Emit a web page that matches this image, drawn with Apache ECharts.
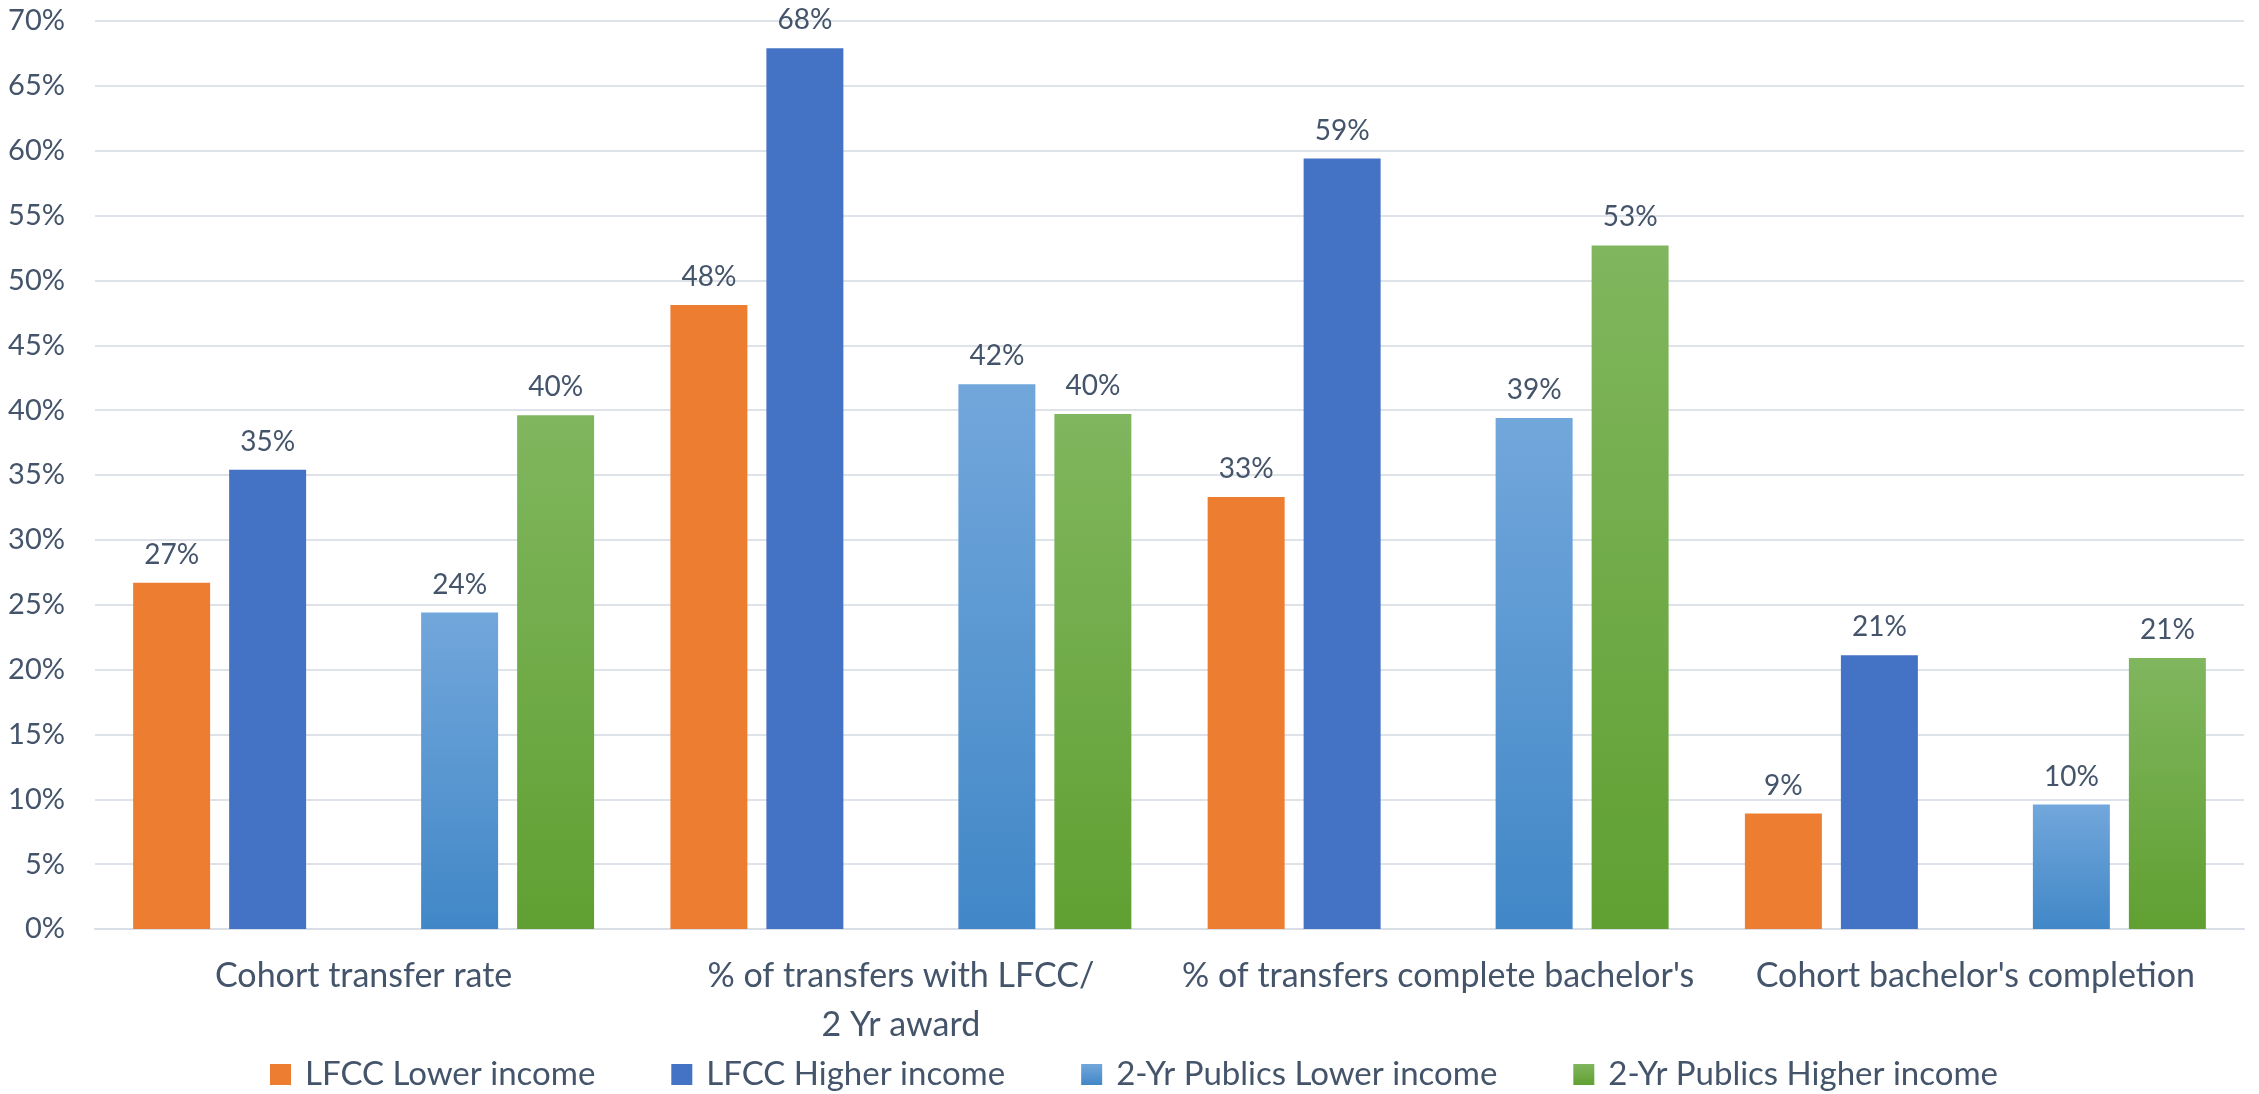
<!DOCTYPE html>
<html>
<head>
<meta charset="utf-8">
<script src="https://cdn.jsdelivr.net/npm/echarts@6/dist/echarts.min.js"></script>
<style>
html,body{margin:0;padding:0;background:#fff;}
#chart{width:2259px;height:1094px;}
</style>
</head>
<body>
<div id="chart"></div>
<script>
const categories = ["Cohort transfer rate", "% of transfers with LFCC/\n2 Yr award", "% of transfers complete bachelor's", "Cohort bachelor's completion"];
const seriesNames = ["LFCC Lower income", "LFCC Higher income", "2-Yr Publics Lower income", "2-Yr Publics Higher income"];
const lfccLower = [26.7, 48.1, 33.3, 8.9];
const lfccHigher = [35.4, 67.9, 59.4, 21.1];
const publicsLower = [24.4, 42.0, 39.4, 9.6];
const publicsHigher = [39.6, 39.7, 52.7, 20.9];
const yTicks = [0, 5, 10, 15, 20, 25, 30, 35, 40, 45, 50, 55, 60, 65, 70];

const textColor = '#44546A';
const fontFamily = 'Lato, "Open Sans", sans-serif';

function grad(top, bottom) {
  return {type:'linear', x:0, y:0, x2:0, y2:1, colorStops:[{offset:0,color:top},{offset:1,color:bottom}]};
}

const label = {
  show: true, position: 'top', distance: 14,
  color: textColor, fontSize: 28, fontFamily: fontFamily,
  formatter: p => Math.round(p.value) + '%'
};

const BAR_GAP = '24.7%';
const CAT_GAP = '14.2%';

function bar(name, data, color) {
  return {name: name, type: 'bar', data: data, itemStyle: {color: color}, label: label,
          barGap: BAR_GAP, barCategoryGap: CAT_GAP};
}

const chart = echarts.init(document.getElementById('chart'));
chart.setOption({
  animation: false,
  backgroundColor: '#fff',
  textStyle: {fontFamily: fontFamily},
  grid: {left: 95, right: 15, top: 21, bottom: 165},
  legend: {
    data: seriesNames, top: 1053, left: 265, itemWidth: 21, itemHeight: 21, icon: 'rect',
    itemGap: 76, textStyle: {color: textColor, fontSize: 33, fontFamily: fontFamily, padding:[0,0,0,9]}
  },
  xAxis: {
    type: 'category', data: categories,
    axisLine: {lineStyle: {color: '#D9DEE6', width: 2}},
    axisTick: {show: false},
    axisLabel: {color: textColor, fontSize: 34, margin: 23, lineHeight: 49, interval: 0, fontFamily: fontFamily}
  },
  yAxis: {
    type: 'value', min: yTicks[0], max: yTicks[yTicks.length-1], interval: 5,
    axisLabel: {color: textColor, fontSize: 29, margin: 30, formatter: v => v + '%', fontFamily: fontFamily},
    splitLine: {lineStyle: {color: '#DEE3EA', width: 2}},
    axisLine: {show: false}, axisTick: {show: false}
  },
  series: [
    bar(seriesNames[0], lfccLower, '#ED7D31'),
    bar(seriesNames[1], lfccHigher, '#4472C4'),
    {name: 'spacer', type: 'bar', data: [null, null, null, null], barGap: BAR_GAP, barCategoryGap: CAT_GAP},
    bar(seriesNames[2], publicsLower, grad('#72A7DB', '#4187C7')),
    bar(seriesNames[3], publicsHigher, grad('#80B65E', '#60A032'))
  ]
});
</script>
</body>
</html>
